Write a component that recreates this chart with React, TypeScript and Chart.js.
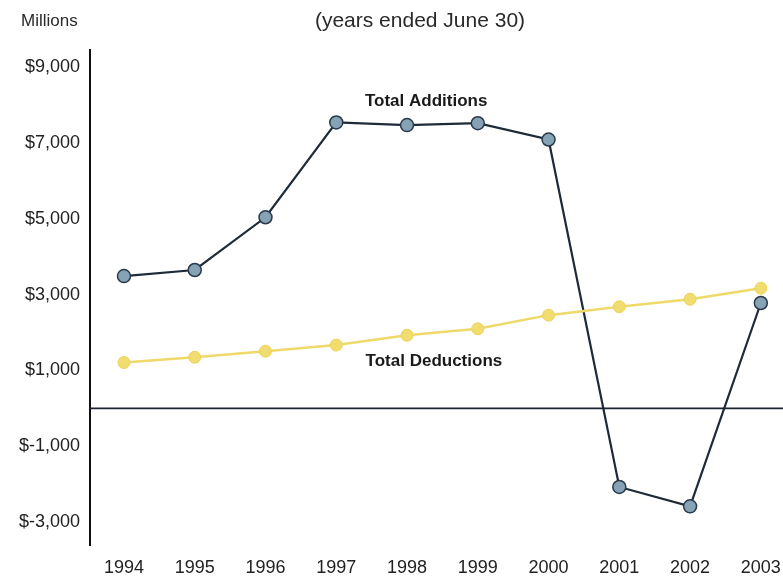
import React, { useEffect, useRef } from "react";
import { Chart, registerables } from "chart.js";

Chart.register(...registerables);

const years = [1994, 1995, 1996, 1997, 1998, 1999, 2000, 2001, 2002, 2003];
const totalAdditions = [3490, 3650, 5040, 7540, 7470, 7520, 7090, -2070, -2580, 2780];
const totalDeductions = [1210, 1350, 1510, 1670, 1930, 2100, 2460, 2680, 2880, 3170];
const yTickValues = [-3000, -1000, 1000, 3000, 5000, 7000, 9000];
const titleText = "(years ended June 30)";
const unitText = "Millions";
const seriesLabels = ["Total Additions", "Total Deductions"];

const FONT = "'Liberation Sans', Arial, Helvetica, sans-serif";

function fmt(v: number) {
  const a = Math.abs(v).toLocaleString("en-US");
  return v < 0 ? "$-" + a : "$" + a;
}

const textPlugin = {
  id: "textPlugin",
  afterDraw(chart: any) {
    const ctx = chart.ctx;
    const xs = chart.scales.x;
    const ys = chart.scales.y;
    ctx.save();
    // zero line
    const y0 = ys.getPixelForValue(0);
    ctx.strokeStyle = "#1b2230";
    ctx.lineWidth = 1.8;
    ctx.beginPath();
    ctx.moveTo(chart.chartArea.left, y0);
    ctx.lineTo(chart.width, y0);
    ctx.stroke();

    ctx.fillStyle = "#2a2a2a";
    ctx.font = `17px ${FONT}`;
    ctx.textBaseline = "middle";
    ctx.textAlign = "left";
    ctx.fillText(unitText, 21, 21);
    ctx.textAlign = "center";
    ctx.font = `21px ${FONT}`;
    ctx.fillText(titleText, 420, 21);

    ctx.fillStyle = "#1a1a1a";
    ctx.font = `bold 17px ${FONT}`;
    ctx.fillText(seriesLabels[0], xs.getPixelForValue(1998.27), ys.getPixelForValue(8100));
    ctx.fillText(seriesLabels[1], xs.getPixelForValue(1998.38), ys.getPixelForValue(1250));
    ctx.restore();
  },
};

export default function App() {
  const ref = useRef<HTMLCanvasElement | null>(null);
  useEffect(() => {
    if (!ref.current) return;
    const chart = new Chart(ref.current, {
      type: "line",
      data: {
        datasets: [
          {
            label: seriesLabels[1],
            data: years.map((y, i) => ({ x: y, y: totalDeductions[i] })),
            borderColor: "#efd96a",
            backgroundColor: "#f1dc70",
            pointBorderColor: "#ecd35a",
            borderWidth: 2.5,
            pointRadius: 6,
            pointBorderWidth: 1,
            tension: 0,
          },
          {
            label: seriesLabels[0],
            data: years.map((y, i) => ({ x: y, y: totalAdditions[i] })),
            borderColor: "#1e2a38",
            backgroundColor: "#86a3b6",
            pointBorderColor: "#2a3a4c",
            borderWidth: 2.2,
            pointRadius: 6.5,
            pointBorderWidth: 1.5,
            tension: 0,
          },
        ],
      },
      options: {
        responsive: false,
        animation: false,
        devicePixelRatio: 1,
        layout: { padding: { top: 50, left: 0, right: 0, bottom: 0 } },
        plugins: { legend: { display: false }, tooltip: { enabled: false }, title: { display: false } },
        scales: {
          x: {
            type: "linear",
            min: 1993.52,
            max: 2003.2,
            grid: { display: false },
            border: { display: false },
            afterBuildTicks: (scale: any) => {
              scale.ticks = years.map((v) => ({ value: v }));
            },
            afterFit: (scale: any) => {
              scale.height = 37;
              scale.paddingLeft = 0;
              scale.paddingRight = 0;
            },
            ticks: {
              autoSkip: false,
              maxRotation: 0,
              padding: 4,
              color: "#222",
              font: { family: FONT, size: 18 },
              callback: (v: any) => String(v),
            },
          },
          y: {
            type: "linear",
            min: -3600,
            max: 9450,
            grid: { display: false },
            border: { display: true, color: "#111", width: 2 },
            afterBuildTicks: (scale: any) => {
              scale.ticks = yTickValues.map((v) => ({ value: v }));
            },
            afterFit: (scale: any) => {
              scale.width = 90;
              scale.paddingTop = 0;
              scale.paddingBottom = 0;
            },
            ticks: {
              padding: 2,
              color: "#222",
              font: { family: FONT, size: 18 },
              callback: (v: any) => fmt(Number(v)),
            },
          },
        },
      },
      plugins: [textPlugin],
    } as any);
    return () => chart.destroy();
  }, []);
  return (
    <div style={{ position: "fixed", left: 0, top: 0, width: 783, height: 582, background: "#fff" }}>
      <canvas ref={ref} width={783} height={582} style={{ width: 783, height: 582, display: "block" }} />
    </div>
  );
}
